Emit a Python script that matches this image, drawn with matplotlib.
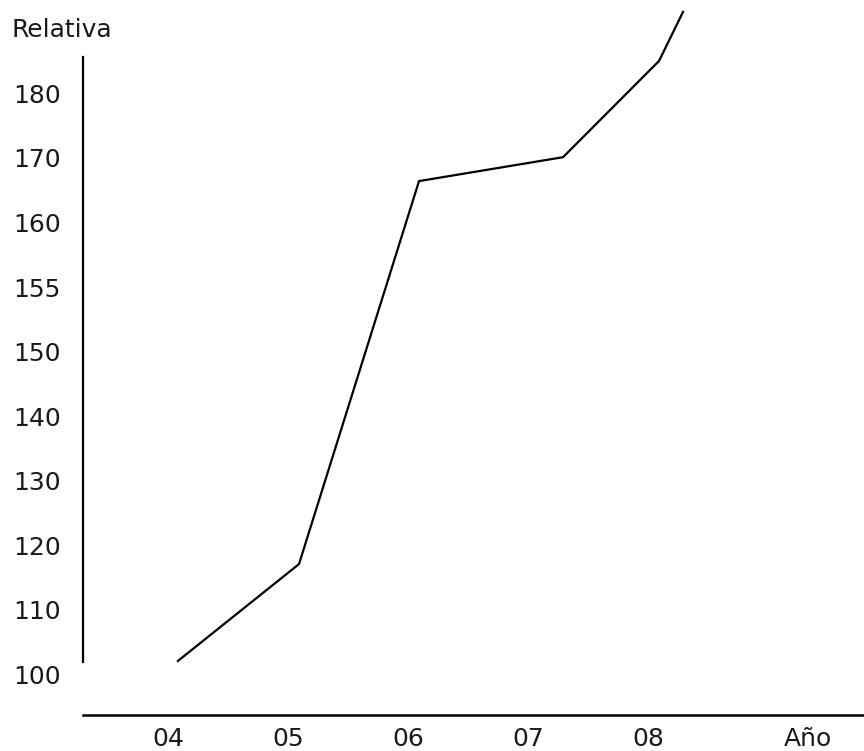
import numpy as np
import matplotlib
matplotlib.use("Agg")
import matplotlib.pyplot as plt

# ---- data ----
years = [4.083, 5.092, 6.092, 7.292, 8.092, 8.292]
relativa = [102.1, 117.1, 166.4, 170.1, 185.0, 192.6]

ytick_values = [100, 110, 120, 130, 140, 150, 155, 160, 170, 180]
ytick_labels = ["100", "110", "120", "130", "140", "150", "155", "160", "170", "180"]
xtick_pos = [4, 5, 6, 7, 8, 9.333]
xtick_labels = ["04", "05", "06", "07", "08", "Año"]

# piecewise-linear axis: ticks evenly spaced regardless of value
vals_ext = np.array([0] + ytick_values + [1000], dtype=float)
pos_ext = np.array([-10] + list(range(len(ytick_values))) + [91], dtype=float)

def fwd(v):
    return np.interp(v, vals_ext, pos_ext)

def inv(p):
    return np.interp(p, pos_ext, vals_ext)

plt.rcParams['font.family'] = ['DejaVu Sans']
W, H = 864, 751
fig = plt.figure(figsize=(W / 100, H / 100), dpi=100)
left, right, top, bottom = 83, 864, 0, 715
ax = fig.add_axes([left / W, 1 - bottom / H, (right - left) / W, (bottom - top) / H])
ax.set_yscale('function', functions=(fwd, inv))

ax.plot(years, relativa, color='black', lw=1.6, solid_joinstyle='miter', clip_on=False)

ax.set_xlim(3.292, 9.8)
ax.set_ylim(93.73, 194.44)

ax.set_yticks(ytick_values)
ax.set_yticklabels(ytick_labels)
ax.set_xticks(xtick_pos)
ax.set_xticklabels(xtick_labels)
ax.yaxis.set_minor_locator(matplotlib.ticker.NullLocator())
ax.tick_params(axis='y', length=0, pad=15.8, labelsize=18, labelcolor='#1a1a1a')
ax.tick_params(axis='x', length=0, pad=9, labelsize=18, labelcolor='#1a1a1a')

for s in ['top', 'right']:
    ax.spines[s].set_visible(False)
ax.spines['left'].set_bounds(101.9, 185.6)
ax.spines['left'].set_linewidth(1.6)
ax.spines['bottom'].set_linewidth(1.8)

fig.text(12 / W, 1 - 36.7 / H, "Relativa", fontsize=18, color='#1a1a1a',
         ha='left', va='baseline')

fig.savefig("out.png", dpi=100)
